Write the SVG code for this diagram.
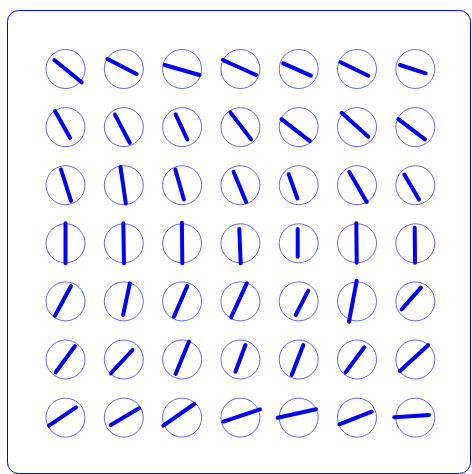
<svg xmlns="http://www.w3.org/2000/svg" width="472" height="474" viewBox="0 0 472 474">
<style>
.frame{fill:none;stroke:#0000ff;stroke-width:1}
.dial circle{fill:none;stroke:#0000ff;stroke-opacity:0.6;stroke-width:1}
.dial line{stroke:#0000ff;stroke-width:4;stroke-linecap:round}
</style>
<rect class="frame" x="7.5" y="10.5" width="463" height="463" rx="11"/>
<g id="connectors"/>
<!-- row 1 -->
<g id="d11" class="dial" transform="translate(65.5,69)"><circle r="19.5"/><line x1="-11.2" y1="-9" x2="16.2" y2="13.3"/></g>
<g id="d12" class="dial" transform="translate(123.8,69)"><circle r="19.5"/><line x1="-16.3" y1="-10" x2="12.7" y2="5"/></g>
<g id="d13" class="dial" transform="translate(182.1,69)"><circle r="19.5"/><line x1="-17.5" y1="-4" x2="17.5" y2="6"/></g>
<g id="d14" class="dial" transform="translate(240.4,69)"><circle r="19.5"/><line x1="-17.7" y1="-9" x2="15.7" y2="6"/></g>
<g id="d15" class="dial" transform="translate(298.7,69)"><circle r="19.5"/><line x1="-15.5" y1="-5.7" x2="12.2" y2="6.7"/></g>
<g id="d16" class="dial" transform="translate(357,69)"><circle r="19.5"/><line x1="-16.3" y1="-6.7" x2="11.3" y2="6.7"/></g>
<g id="d17" class="dial" transform="translate(415.3,69)"><circle r="19.5"/><line x1="-15.3" y1="-4" x2="10.4" y2="4.3"/></g>
<!-- row 2 -->
<g id="d21" class="dial" transform="translate(65.5,127.1)"><circle r="19.5"/><line x1="-10.5" y1="-16" x2="4.5" y2="10.7"/></g>
<g id="d22" class="dial" transform="translate(123.8,127.1)"><circle r="19.5"/><line x1="-9" y1="-12.7" x2="6" y2="15.7"/></g>
<g id="d23" class="dial" transform="translate(182.1,127.1)"><circle r="19.5"/><line x1="-6.5" y1="-12.7" x2="5.2" y2="12.3"/></g>
<g id="d24" class="dial" transform="translate(240.4,127.1)"><circle r="19.5"/><line x1="-10" y1="-14.7" x2="10.7" y2="12.3"/></g>
<g id="d25" class="dial" transform="translate(298.7,127.1)"><circle r="19.5"/><line x1="-17.2" y1="-8" x2="11.2" y2="14"/></g>
<g id="d26" class="dial" transform="translate(357,127.1)"><circle r="19.5"/><line x1="-15.3" y1="-14.3" x2="11.3" y2="9.7"/></g>
<g id="d27" class="dial" transform="translate(415.3,127.1)"><circle r="19.5"/><line x1="-17" y1="-8" x2="9.7" y2="12.3"/></g>
<!-- row 3 -->
<g id="d31" class="dial" transform="translate(65.5,185.2)"><circle r="19.5"/><line x1="-4.5" y1="-15.7" x2="5.5" y2="15.7"/></g>
<g id="d32" class="dial" transform="translate(123.8,185.2)"><circle r="19.5"/><line x1="-3.3" y1="-18.3" x2="2" y2="18.3"/></g>
<g id="d33" class="dial" transform="translate(182.1,185.2)"><circle r="19.5"/><line x1="-6.8" y1="-15.7" x2="1.8" y2="14.3"/></g>
<g id="d34" class="dial" transform="translate(240.4,185.2)"><circle r="19.5"/><line x1="-6.7" y1="-13.3" x2="5.7" y2="16.7"/></g>
<g id="d35" class="dial" transform="translate(298.7,185.2)"><circle r="19.5"/><line x1="-10" y1="-11" x2="-1.3" y2="13.3"/></g>
<g id="d36" class="dial" transform="translate(357,185.2)"><circle r="19.5"/><line x1="-7.7" y1="-13.3" x2="9.7" y2="16.7"/></g>
<g id="d37" class="dial" transform="translate(415.3,185.2)"><circle r="19.5"/><line x1="-11" y1="-10.7" x2="3.7" y2="14.3"/></g>
<!-- row 4 -->
<g id="d41" class="dial" transform="translate(65.5,243.3)"><circle r="19.5"/><line x1="0" y1="-20" x2="0" y2="20"/></g>
<g id="d42" class="dial" transform="translate(123.8,243.3)"><circle r="19.5"/><line x1="-0.5" y1="-20" x2="0.2" y2="20"/></g>
<g id="d43" class="dial" transform="translate(182.1,243.3)"><circle r="19.5"/><line x1="-0.2" y1="-20.6" x2="0.2" y2="20"/></g>
<g id="d44" class="dial" transform="translate(240.4,243.3)"><circle r="19.5"/><line x1="-1.1" y1="-14.3" x2="0.3" y2="20"/></g>
<g id="d45" class="dial" transform="translate(298.7,243.3)"><circle r="19.5"/><line x1="-1" y1="-14.3" x2="-1" y2="13.4"/></g>
<g id="d46" class="dial" transform="translate(357,243.3)"><circle r="19.5"/><line x1="-0.7" y1="-20" x2="-0.3" y2="19.4"/></g>
<g id="d47" class="dial" transform="translate(415.3,243.3)"><circle r="19.5"/><line x1="-0.6" y1="-15.6" x2="-0.3" y2="19.4"/></g>
<!-- row 5 -->
<g id="d51" class="dial" transform="translate(65.5,301.4)"><circle r="19.5"/><line x1="5.5" y1="-15.4" x2="-10.5" y2="14.3"/></g>
<g id="d52" class="dial" transform="translate(123.8,301.4)"><circle r="19.5"/><line x1="6" y1="-18" x2="-0.7" y2="13.6"/></g>
<g id="d53" class="dial" transform="translate(182.1,301.4)"><circle r="19.5"/><line x1="5.2" y1="-15.4" x2="-8.2" y2="15.3"/></g>
<g id="d54" class="dial" transform="translate(240.4,301.4)"><circle r="19.5"/><line x1="6.3" y1="-18" x2="-9.3" y2="16"/></g>
<g id="d55" class="dial" transform="translate(298.7,301.4)"><circle r="19.5"/><line x1="9.6" y1="-10.7" x2="-3" y2="13.6"/></g>
<g id="d56" class="dial" transform="translate(357,301.4)"><circle r="19.5"/><line x1="-0.3" y1="-20.7" x2="-8" y2="20.3"/></g>
<g id="d57" class="dial" transform="translate(415.3,301.4)"><circle r="19.5"/><line x1="5.7" y1="-13.7" x2="-13.6" y2="7.9"/></g>
<!-- row 6 -->
<g id="d61" class="dial" transform="translate(65.5,359.5)"><circle r="19.5"/><line x1="9.5" y1="-13.5" x2="-9.8" y2="12.8"/></g>
<g id="d62" class="dial" transform="translate(123.8,359.5)"><circle r="19.5"/><line x1="8.7" y1="-9.5" x2="-13" y2="13.8"/></g>
<g id="d63" class="dial" transform="translate(182.1,359.5)"><circle r="19.5"/><line x1="6.8" y1="-17.8" x2="-6.5" y2="14.5"/></g>
<g id="d64" class="dial" transform="translate(240.4,359.5)"><circle r="19.5"/><line x1="5" y1="-14.5" x2="-5" y2="12.2"/></g>
<g id="d65" class="dial" transform="translate(298.7,359.5)"><circle r="19.5"/><line x1="4.6" y1="-14.5" x2="-7" y2="15.5"/></g>
<g id="d66" class="dial" transform="translate(357,359.5)"><circle r="19.5"/><line x1="7.3" y1="-12.2" x2="-11.3" y2="12.8"/></g>
<g id="d67" class="dial" transform="translate(415.3,359.5)"><circle r="19.5"/><line x1="13" y1="-14.5" x2="-15.3" y2="11.5"/></g>
<!-- row 7 -->
<g id="d71" class="dial" transform="translate(65.5,417.6)"><circle r="19.5"/><line x1="10.5" y1="-10.3" x2="-16.5" y2="8.1"/></g>
<g id="d72" class="dial" transform="translate(123.8,417.6)"><circle r="19.5"/><line x1="15.3" y1="-9.3" x2="-13" y2="7.4"/></g>
<g id="d73" class="dial" transform="translate(182.1,417.6)"><circle r="19.5"/><line x1="12.2" y1="-13.6" x2="-18.8" y2="8.1"/></g>
<g id="d74" class="dial" transform="translate(240.4,417.6)"><circle r="19.5"/><line x1="19.6" y1="-8.3" x2="-17.1" y2="4.1"/></g>
<g id="d75" class="dial" transform="translate(298.7,417.6)"><circle r="19.5"/><line x1="17.3" y1="-8.3" x2="-21" y2="0.1"/></g>
<g id="d76" class="dial" transform="translate(357,417.6)"><circle r="19.5"/><line x1="14.7" y1="-5.9" x2="-17.7" y2="6.7"/></g>
<g id="d77" class="dial" transform="translate(415.3,417.6)"><circle r="19.5"/><line x1="13.7" y1="-2.6" x2="-21" y2="-0.3"/></g>
</svg>
